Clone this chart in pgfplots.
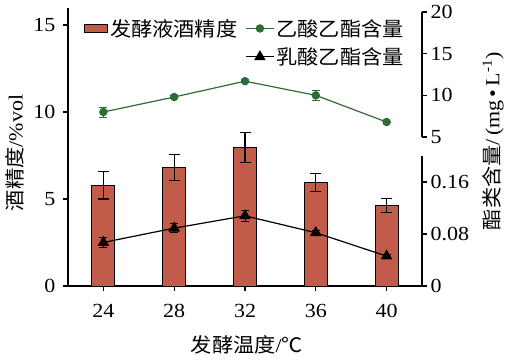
\documentclass[border=0pt]{standalone}
\usepackage{pgfplots}
\pgfplotsset{compat=1.18}
\usepackage{fontspec}
\setmainfont{Liberation Serif}[FakeStretch=1.1]
\newfontfamily\cjk{Noto Sans CJK SC}[FakeStretch=1.06]
\definecolor{barc}{RGB}{193,92,74}
\definecolor{grn}{RGB}{45,108,52}
\pgfplotsset{
  base/.style={scale only axis, width=354pt, height=278.4pt, xmin=22, xmax=42, clip=false,
    tick align=outside, major tick length=5pt, tick style={black, line width=1.1pt},
    axis line style={line width=1.2pt},
    tick label style={font=\rmfamily\fontsize{20}{24}\selectfont},
    /pgf/number format/assume math mode=true,
    label style={font=\fontsize{20}{24}\selectfont}},
  grnline/.style={color=grn, line width=1.2pt, mark=*, mark size=3.6pt,
    legend image code/.code={\draw[mark repeat=2,mark phase=2,##1] plot coordinates {(0pt,0pt) (14pt,0pt) (28pt,0pt)};}},
  triline/.style={color=black, line width=1.2pt, mark=triangle*, mark size=5.5pt,
    legend image code/.code={\draw[mark repeat=2,mark phase=2,##1] plot coordinates {(0pt,0pt) (14pt,0pt) (28pt,0pt)};}},
}
\begin{document}
\begin{tikzpicture}
\useasboundingbox (-68pt,-76pt) rectangle (440pt,286pt);
% bars: alcohol content
\begin{axis}[base, ymin=0, ymax=16, axis x line*=bottom, axis y line*=left,
  xtick={24,28,32,36,40}, ytick={0,5,10,15},
  xticklabel style={yshift=-10pt},
  yticklabel style={xshift=-4pt},
  xlabel={\cjk 发酵温度\rmfamily/\cjk ℃},
  ylabel={\cjk 酒精度\rmfamily/\%vol},
  xlabel style={at={(axis description cs:0.5056,-0.21)}, anchor=center},
  ylabel style={at={(axis description cs:-0.1497,0.478)}, anchor=center, rotate=0},
  legend style={at={(axis description cs:0.045,0.966)}, anchor=north west, draw=none, fill=none,
    font=\fontsize{20}{25}\selectfont, inner sep=0pt, row sep=6pt,
    /tikz/every even column/.append style={column sep=6pt}},
  legend columns=2, legend cell align=left]
\addplot[ybar, bar width=23pt, fill=barc, draw=black, line width=1pt,
  legend image code/.code={\draw[fill=barc,draw=black,line width=1pt] (0pt,-4pt) rectangle (23pt,4pt);},
  error bars/.cd, y dir=both, y explicit,
  error bar style={black, line width=1.1pt},
  error mark options={rotate=90, mark size=5.5pt, line width=1.1pt, black}]
  coordinates {(24,5.8) +- (0,0.8) (28,6.8) +- (0,0.75) (32,7.95) +- (0,0.86) (36,5.95) +- (0,0.5) (40,4.65) +- (0,0.4)};
\addlegendentry{\cjk 发酵液酒精度}
\addlegendimage{grnline}
\addlegendentry{\cjk 乙酸乙酯含量}
\addlegendimage{empty legend}
\addlegendentry{}
\addlegendimage{triline}
\addlegendentry{\cjk 乳酸乙酯含量}
\end{axis}
% ethyl acetate
\begin{axis}[base, ymin=-12.88, ymax=20.53, hide x axis, axis y line*=right,
  y axis line style={draw=none}, ytick={5,10,15,20}]
\draw[black, line width=1.2pt] (axis cs:42,5) -- (axis cs:42,20);
\addplot[grnline, error bars/.cd, y dir=both, y explicit,
  error bar style={grn, line width=1pt},
  error mark options={rotate=90, mark size=4pt, grn, line width=1pt}]
  coordinates {(24,8.0) +- (0,0.6) (28,9.8) +- (0,0.2) (32,11.7) +- (0,0.2) (36,10.0) +- (0,0.6) (40,6.8) +- (0,0.1)};
\end{axis}
% ethyl lactate
\begin{axis}[base, ymin=0, ymax=0.4283, hide x axis, axis y line*=right,
  y axis line style={draw=none}, ytick={0,0.08,0.16}, yticklabels={0,0.08,0.16},
  ylabel={\cjk 酯类含量\rmfamily/\,(mg\,•\,L\textsuperscript{-1})},
  ylabel style={at={(axis description cs:1.2006,0.5208)}, anchor=center, rotate=0}]
\draw[black, line width=1.2pt] (axis cs:42,0) -- (axis cs:42,0.2);
\addplot[triline, error bars/.cd, y dir=both, y explicit,
  error bar style={black, line width=1pt},
  error mark options={rotate=90, mark size=4pt, black, line width=1pt}]
  coordinates {(24,0.067) +- (0,0.008) (28,0.089) +- (0,0.007) (32,0.108) +- (0,0.008) (36,0.082) +- (0,0.004) (40,0.046) +- (0,0.003)};
\end{axis}
\end{tikzpicture}
\end{document}
